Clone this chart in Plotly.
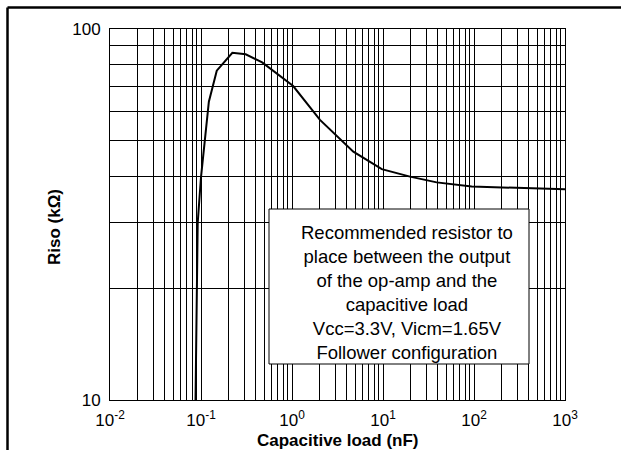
import plotly.graph_objects as go

# Data
cap_nF = [0.087, 0.0896, 0.092, 0.1, 0.122, 0.149, 0.221, 0.31, 0.47, 1.03, 2.03, 4.72, 9.7, 19.8, 38.9, 94.4, 1000]
riso_k = [10.0, 19.8, 30.0, 39.9, 63.7, 77.2, 86.3, 85.5, 81.3, 70.2, 56.9, 46.7, 41.9, 40.0, 38.6, 37.6, 37.0]

x_tickvals = [0.01, 0.1, 1, 10, 100, 1000]
x_ticktext = ["10<sup>-2</sup>", "10<sup>-1</sup>", "10<sup>0</sup>", "10<sup>1</sup>", "10<sup>2</sup>", "10<sup>3</sup>"]
y_tickvals = [10, 100]
y_ticktext = ["10", "100"]
y_minor = [20, 30, 40, 50, 60, 70, 80, 90]

note_lines = ["Recommended resistor to", "place between the output", "of the op-amp and the",
              "capacitive load", "Vcc=3.3V, Vicm=1.65V", "Follower configuration"]

FONT = "Liberation Sans, Arial, sans-serif"

fig = go.Figure()
fig.add_trace(go.Scatter(x=cap_nF, y=riso_k, mode="lines",
                         line=dict(color="black", width=2), hoverinfo="skip"))

W, H = 621, 450
L, R, T, B = 110, 56, 29, 50
pw, ph = W - L - R, H - T - B

def px(xp):
    return (xp - L) / pw

def py(yp):
    return (H - B - yp) / ph

fig.update_layout(
    width=W, height=H,
    margin=dict(l=L, r=R, t=T, b=B, autoexpand=False),
    paper_bgcolor="white", plot_bgcolor="white",
    showlegend=False,
    font=dict(family=FONT, color="black", size=17),
    xaxis=dict(type="log", range=[-2, 3], tickvals=x_tickvals, ticktext=x_ticktext,
               showgrid=True, gridcolor="black", gridwidth=1,
               minor=dict(dtick="D1", showgrid=True, gridcolor="black", gridwidth=1, ticks=""),
               showline=True, linecolor="black", linewidth=1, mirror=True,
               ticks="", zeroline=False, tickfont=dict(size=17), ticklabelstandoff=5),
    yaxis=dict(type="log", range=[1, 2], tickvals=y_tickvals, ticktext=y_ticktext,
               showgrid=True, gridcolor="black", gridwidth=1,
               minor=dict(tickvals=y_minor, showgrid=True, gridcolor="black", gridwidth=1, ticks=""),
               showline=True, linecolor="black", linewidth=1, mirror=True,
               ticks="", zeroline=False, tickfont=dict(size=17), ticklabelstandoff=5),
)

# Outer frame lines (left and top)
fig.add_shape(type="line", xref="paper", yref="paper", x0=px(7.5), x1=px(7.5), y0=py(7.5), y1=py(450),
              line=dict(color="black", width=2.5))
fig.add_shape(type="line", xref="paper", yref="paper", x0=px(7.5), x1=px(621), y0=py(7.5), y1=py(7.5),
              line=dict(color="black", width=2.5))

# Note box
fig.add_shape(type="rect", xref="paper", yref="paper", x0=px(269), x1=px(529), y0=py(364), y1=py(209),
              line=dict(color="black", width=1), fillcolor="white", layer="above")
fig.add_annotation(xref="paper", yref="paper", x=px(407), y=py(292.5), xanchor="center", yanchor="middle",
                   showarrow=False, text="<br>".join(note_lines), align="center",
                   font=dict(size=18.5, family=FONT))

# Axis titles
fig.add_annotation(xref="paper", yref="paper", x=px(337.5), y=py(440), xanchor="center", yanchor="middle",
                   showarrow=False, text="<b>Capacitive load (nF)</b>", font=dict(size=17, family=FONT))
fig.add_annotation(xref="paper", yref="paper", x=px(54), y=py(227), xanchor="center", yanchor="middle",
                   showarrow=False, textangle=-90, text="<b>Riso (kΩ)</b>", font=dict(size=17, family=FONT))

fig.write_html("out.html", config={"displayModeBar": False},
               post_script="document.body.style.margin='0';")
